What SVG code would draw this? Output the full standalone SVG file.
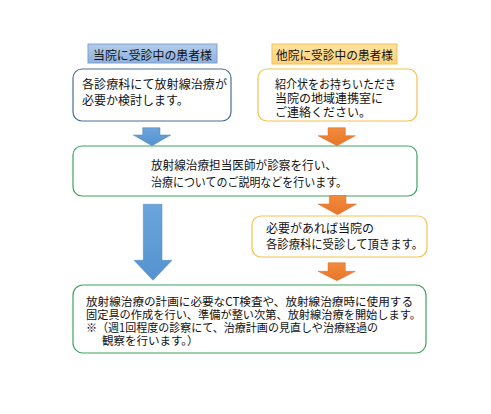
<svg xmlns="http://www.w3.org/2000/svg" width="491" height="414" viewBox="0 0 491 414">
<defs>
<linearGradient id="gBlue" x1="0" y1="0" x2="0" y2="1">
<stop offset="0" stop-color="#B4CCEA"/><stop offset="1" stop-color="#8FB2DE"/>
</linearGradient>
<linearGradient id="gOrange" x1="0" y1="0" x2="0" y2="1">
<stop offset="0" stop-color="#FFE3A0"/><stop offset="1" stop-color="#FFD27A"/>
</linearGradient>
<linearGradient id="aBlue" x1="0" y1="0" x2="0" y2="1">
<stop offset="0" stop-color="#6BA5DB"/><stop offset="1" stop-color="#5592CF"/>
</linearGradient>
<linearGradient id="aOrange" x1="0" y1="0" x2="0" y2="1">
<stop offset="0" stop-color="#F28A3C"/><stop offset="1" stop-color="#E7762A"/>
</linearGradient>
</defs>
<style>
text{font-family:"Noto Sans CJK JP","Noto Sans",sans-serif;font-size:12px;fill:#111;dominant-baseline:central}
.sm{font-size:11.5px}
.box{fill:#fff;stroke-width:1.2}
.bl{stroke:#4A6E91}
.or{stroke:#F2C14E}
.gr{stroke:#3DA35D}
</style>
<rect width="491" height="414" fill="#fff"/>
<g id="header1">
<rect x="88" y="44" width="129" height="19" fill="url(#gBlue)" stroke="#7FA3CF" stroke-width="1"/>
<text x="152.5" y="54" text-anchor="middle" textLength="119" lengthAdjust="spacingAndGlyphs">当院に受診中の患者様</text>
</g>
<g id="header2">
<rect x="272" y="44" width="125" height="20" fill="url(#gOrange)" stroke="#F2C14E" stroke-width="1"/>
<text x="334.5" y="54" text-anchor="middle" textLength="117" lengthAdjust="spacingAndGlyphs">他院に受診中の患者様</text>
</g>
<g id="box1">
<rect class="box bl" x="73" y="69" width="158" height="52" rx="9"/>
<text x="82" y="83" textLength="145" lengthAdjust="spacingAndGlyphs">各診療科にて放射線治療が</text>
<text x="82" y="99">必要か検討します。</text>
</g>
<g id="box2">
<rect class="box or" x="258" y="69" width="159" height="52" rx="9"/>
<text x="275" y="83" textLength="121" lengthAdjust="spacingAndGlyphs">紹介状をお持ちいただき</text>
<text x="275" y="97">当院の地域連携室に</text>
<text x="275" y="111">ご連絡ください。</text>
</g>
<g id="box3">
<rect class="box gr" x="73" y="146" width="344" height="50" rx="9"/>
<text x="151" y="164" textLength="186" lengthAdjust="spacingAndGlyphs">放射線治療担当医師が診察を行い、</text>
<text x="151" y="181" textLength="196" lengthAdjust="spacingAndGlyphs">治療についてのご説明などを行います。</text>
</g>
<g id="box4">
<rect class="box or" x="252" y="216" width="175" height="41" rx="9"/>
<text x="266" y="227">必要があれば当院の</text>
<text x="266" y="243" textLength="157" lengthAdjust="spacingAndGlyphs">各診療科に受診して頂きます。</text>
</g>
<g id="box5">
<rect class="box gr" x="73" y="285" width="353" height="68" rx="10"/>
<text class="sm" x="86" y="300.5" textLength="327" lengthAdjust="spacingAndGlyphs">放射線治療の計画に必要なCT検査や、放射線治療時に使用する</text>
<text class="sm" x="86" y="313.5" textLength="335" lengthAdjust="spacingAndGlyphs">固定具の作成を行い、準備が整い次第、放射線治療を開始します。</text>
<text class="sm" x="86" y="326.5" textLength="292" lengthAdjust="spacingAndGlyphs">※（週1回程度の診察にて、治療計画の見直しや治療経過の</text>
<text class="sm" x="102" y="340">観察を行います。）</text>
</g>
<g id="connectors">
<path d="M142.7,127.7 H160 V135 H170.7 L152,145.7 L133.3,135 H142.7 Z" fill="url(#aBlue)" stroke="#4E86BE" stroke-width="0.5"/>
<path d="M328,127.7 H345.3 V135.7 H355.3 L337,145.7 L318,135.7 H328 Z" fill="url(#aOrange)" stroke="#D8692A" stroke-width="0.5"/>
<path d="M143.3,204.3 H162 V260.3 H172 L153,280.3 L134,260.3 H143.3 Z" fill="url(#aBlue)" stroke="#4E86BE" stroke-width="0.5"/>
<path d="M329.3,195.5 H346 V204 H356.5 L337.5,214.7 L318,204 H329.3 Z" fill="url(#aOrange)" stroke="#D8692A" stroke-width="0.5"/>
<path d="M328,262.7 H345.3 V271.3 H355.3 L337,280.7 L318,271.3 H328 Z" fill="url(#aOrange)" stroke="#D8692A" stroke-width="0.5"/>
</g>
</svg>
